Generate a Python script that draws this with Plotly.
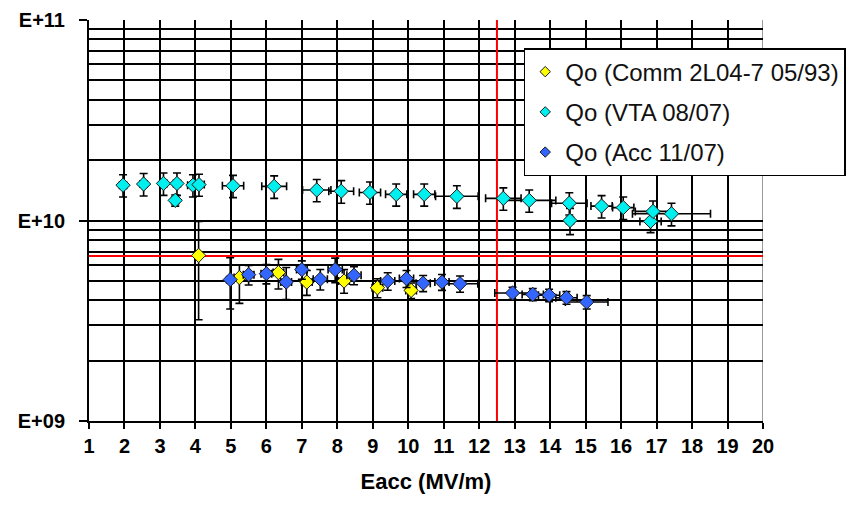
import plotly.graph_objects as go

# Qo vs Eacc, three measurement campaigns
comm_e = [4.09, 5.24, 6.34, 7.14, 8.19, 9.13, 10.08]
comm_q = [6.70e9, 5.19e9, 5.50e9, 4.93e9, 4.99e9, 4.62e9, 4.48e9]
comm_dq_plus = [3.2e9, 0.8e9, 0.9e9, 0.7e9, 0.7e9, 0.5e9, 0.4e9]
comm_dq_minus = [3.5e9, 1.33e9, 0.95e9, 0.7e9, 0.65e9, 0.5e9, 0.4e9]
comm_de = [0.0, 0.15, 0.15, 0.15, 0.15, 0.15, 0.15]

vta_e = [1.96, 2.54, 3.10, 3.43, 3.48, 3.93, 4.10, 5.06, 6.22, 7.42, 8.11, 8.92,
         9.66, 10.45, 11.37, 12.68, 13.41, 14.54, 14.56, 15.45, 16.06, 16.83, 16.90, 17.42]
vta_q = [1.50e10, 1.52e10, 1.53e10, 1.26e10, 1.53e10, 1.50e10, 1.51e10, 1.49e10,
         1.48e10, 1.42e10, 1.40e10, 1.38e10, 1.35e10, 1.35e10, 1.32e10, 1.29e10,
         1.26e10, 1.22e10, 1.00e10, 1.18e10, 1.16e10, 0.99e10, 1.11e10, 1.08e10]
vta_dq = [1.9e9, 1.95e9, 1.95e9, 0.8e9, 1.95e9, 1.9e9, 1.9e9, 1.9e9,
          1.9e9, 1.8e9, 1.8e9, 1.75e9, 1.7e9, 1.7e9, 1.7e9, 1.65e9,
          1.6e9, 1.55e9, 1.5e9, 1.5e9, 1.5e9, 1.2e9, 1.4e9, 1.4e9]
vta_de = [0.1, 0.1, 0.1, 0.1, 0.1, 0.15, 0.15, 0.3, 0.35, 0.4, 0.35, 0.3,
          0.3, 0.3, 0.6, 0.5, 0.75, 0.5, 0.1, 0.3, 0.3, 0.3, 0.5, 1.1]

acc_e = [4.98, 5.50, 6.00, 6.56, 7.00, 7.52, 7.94, 8.47, 9.42, 9.95, 10.42, 10.95,
         11.46, 12.94, 13.51, 13.97, 14.46, 15.03]
acc_q = [5.07e9, 5.37e9, 5.43e9, 4.93e9, 5.69e9, 5.10e9, 5.69e9, 5.33e9, 4.99e9,
         5.13e9, 4.87e9, 4.93e9, 4.84e9, 4.35e9, 4.28e9, 4.24e9, 4.12e9, 3.92e9]
acc_dq = [1.45e9, 0.6e9, 0.6e9, 0.9e9, 0.6e9, 0.6e9, 0.8e9, 0.55e9, 0.5e9,
          0.5e9, 0.45e9, 0.45e9, 0.45e9, 0.3e9, 0.3e9, 0.3e9, 0.3e9, 0.3e9]
acc_de = [0.1, 0.15, 0.15, 0.15, 0.15, 0.2, 0.2, 0.2, 0.2, 0.2, 0.2, 0.2,
          0.5, 0.5, 0.3, 0.3, 0.3, 0.6]

# reference limits
ref_e = 12.5
ref_q = 6.65e9

x_ticks = list(range(1, 21))
y_ticks = [1e9, 1e10, 1e11]
y_tick_text = ["E+09", "E+10", "E+11"]
y_minor = [m * 10 ** d for d in (9, 10) for m in range(2, 10)]

names = ["Qo (Comm 2L04-7 05/93)", "Qo (VTA 08/07)", "Qo (Acc 11/07)"]
colors = ["#FFFF00", "#00EFEF", "#3366FF"]

FONT = "Liberation Sans, Arial, sans-serif"
EDGE = "#1a1a1a"

fig = go.Figure()

# reference lines (under the markers)
fig.add_trace(go.Scatter(x=[x_ticks[0], x_ticks[-1]], y=[ref_q, ref_q], mode="lines",
                         line=dict(color="#FF0000", width=2), showlegend=False,
                         hoverinfo="skip"))
fig.add_trace(go.Scatter(x=[ref_e, ref_e], y=[y_ticks[0], y_ticks[-1]], mode="lines",
                         line=dict(color="#FF0000", width=2), showlegend=False,
                         hoverinfo="skip"))

series = [
    (comm_e, comm_q, comm_dq_plus, comm_dq_minus, comm_de),
    (vta_e, vta_q, vta_dq, vta_dq, vta_de),
    (acc_e, acc_q, acc_dq, acc_dq, acc_de),
]
for (e, q, dqp, dqm, de), name, col in zip(series, names, colors):
    fig.add_trace(go.Scatter(
        x=e, y=q, mode="markers", name=name, showlegend=False,
        marker=dict(symbol="diamond", size=11, color=col,
                    line=dict(color=EDGE, width=1)),
        error_y=dict(type="data", array=dqp, arrayminus=dqm, symmetric=False,
                     color="black", thickness=1.6, width=4),
        error_x=dict(type="data", array=de, color="black", thickness=1.6, width=4),
    ))

# legend entries with smaller symbols
for i, (name, col) in enumerate(zip(names, colors)):
    fig.add_trace(go.Scatter(
        x=[None], y=[None], mode="markers", name=name, legendgroup=f"g{i}",
        marker=dict(symbol="diamond", size=8, color=col,
                    line=dict(color=EDGE, width=1)),
    ))

# grey right-hand frame line
fig.add_shape(type="line", xref="x", yref="paper", x0=20, x1=20, y0=0, y1=1,
              line=dict(color="#9a9a9a", width=2), layer="between")

fig.update_layout(
    width=850, height=510,
    margin=dict(l=89, r=87, t=20, b=89, autoexpand=False),
    paper_bgcolor="white", plot_bgcolor="white",
    font=dict(family=FONT, color="black"),
    showlegend=True,
    legend=dict(x=0.645, y=0.93, xanchor="left", yanchor="top",
                bgcolor="white", bordercolor="black", borderwidth=1.5,
                font=dict(size=24, family=FONT, color="#111111"),
                tracegroupgap=6),
    xaxis=dict(range=[1, 20], tickmode="array", tickvals=x_ticks,
               showgrid=True, gridcolor="black", gridwidth=2,
               showline=True, linecolor="black", linewidth=2,
               ticks="outside", ticklen=6, tickwidth=2, tickcolor="black",
               zeroline=False, automargin=False,
               tickfont=dict(size=20, family=FONT, weight="bold"),
               title=dict(text="Eacc (MV/m)", standoff=18,
                          font=dict(size=22, family=FONT, weight="bold"))),
    yaxis=dict(type="log", range=[9, 11], tickmode="array", tickvals=y_ticks,
               ticktext=y_tick_text,
               showgrid=True, gridcolor="black", gridwidth=2,
               minor=dict(tickvals=y_minor, showgrid=True, gridcolor="black",
                          gridwidth=2, ticks=""),
               showline=True, linecolor="black", linewidth=2,
               ticks="outside", ticklen=8, tickwidth=2, tickcolor="black",
               ticklabelstandoff=10,
               zeroline=False, automargin=False,
               tickfont=dict(size=20, family=FONT, weight="bold")),
)

fig.write_html("out.html")
